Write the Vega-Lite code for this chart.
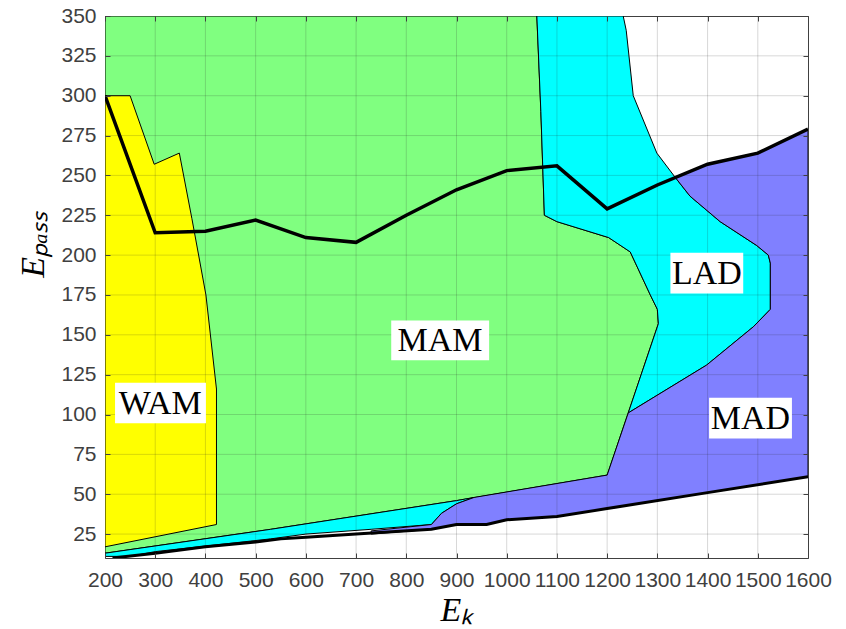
{
  "$schema": "https://vega.github.io/schema/vega-lite/v6.json",
  "width": 703,
  "height": 542,
  "autosize": "none",
  "padding": {"left": 105, "top": 16, "right": 38, "bottom": 71},
  "background": "white",
  "config": {
    "view": {"stroke": "#404040", "strokeWidth": 1}
  },
  "datasets": {
    "poly": [
      {"r": "MAM", "i": 0, "Ek": 200, "Ep": 350},
      {"r": "MAM", "i": 1, "Ek": 1060, "Ep": 350},
      {"r": "MAM", "i": 2, "Ek": 1068, "Ep": 290},
      {"r": "MAM", "i": 3, "Ek": 1075, "Ep": 225},
      {"r": "MAM", "i": 4, "Ek": 1100, "Ep": 221},
      {"r": "MAM", "i": 5, "Ek": 1203, "Ep": 211},
      {"r": "MAM", "i": 6, "Ek": 1246, "Ep": 202},
      {"r": "MAM", "i": 7, "Ek": 1286, "Ep": 175},
      {"r": "MAM", "i": 8, "Ek": 1300, "Ep": 166},
      {"r": "MAM", "i": 9, "Ek": 1302, "Ep": 157},
      {"r": "MAM", "i": 10, "Ek": 1242, "Ep": 101},
      {"r": "MAM", "i": 11, "Ek": 1200, "Ep": 62},
      {"r": "MAM", "i": 12, "Ek": 900, "Ep": 46},
      {"r": "MAM", "i": 13, "Ek": 530, "Ep": 28},
      {"r": "MAM", "i": 14, "Ek": 200, "Ep": 13},
      {"r": "MAM", "i": 15, "Ek": 200, "Ep": 350},

      {"r": "WAM", "i": 0, "Ek": 200, "Ep": 300},
      {"r": "WAM", "i": 1, "Ek": 250, "Ep": 300},
      {"r": "WAM", "i": 2, "Ek": 298, "Ep": 257},
      {"r": "WAM", "i": 3, "Ek": 348, "Ep": 264},
      {"r": "WAM", "i": 4, "Ek": 373, "Ep": 223},
      {"r": "WAM", "i": 5, "Ek": 401, "Ep": 175},
      {"r": "WAM", "i": 6, "Ek": 422, "Ep": 116},
      {"r": "WAM", "i": 7, "Ek": 422, "Ep": 31},
      {"r": "WAM", "i": 8, "Ek": 200, "Ep": 17},
      {"r": "WAM", "i": 9, "Ek": 200, "Ep": 300},

      {"r": "LAD", "i": 0, "Ek": 1060, "Ep": 350},
      {"r": "LAD", "i": 1, "Ek": 1232, "Ep": 350},
      {"r": "LAD", "i": 2, "Ek": 1238, "Ep": 341},
      {"r": "LAD", "i": 3, "Ek": 1252, "Ep": 300},
      {"r": "LAD", "i": 4, "Ek": 1299, "Ep": 264},
      {"r": "LAD", "i": 5, "Ek": 1335, "Ep": 249},
      {"r": "LAD", "i": 6, "Ek": 1365, "Ep": 237},
      {"r": "LAD", "i": 7, "Ek": 1425, "Ep": 221},
      {"r": "LAD", "i": 8, "Ek": 1498, "Ep": 206},
      {"r": "LAD", "i": 9, "Ek": 1521, "Ep": 200},
      {"r": "LAD", "i": 10, "Ek": 1525, "Ep": 195},
      {"r": "LAD", "i": 11, "Ek": 1525, "Ep": 166},
      {"r": "LAD", "i": 12, "Ek": 1491, "Ep": 155},
      {"r": "LAD", "i": 13, "Ek": 1398, "Ep": 131},
      {"r": "LAD", "i": 14, "Ek": 1242, "Ep": 101},
      {"r": "LAD", "i": 15, "Ek": 1302, "Ep": 157},
      {"r": "LAD", "i": 16, "Ek": 1300, "Ep": 166},
      {"r": "LAD", "i": 17, "Ek": 1286, "Ep": 175},
      {"r": "LAD", "i": 18, "Ek": 1246, "Ep": 202},
      {"r": "LAD", "i": 19, "Ek": 1203, "Ep": 211},
      {"r": "LAD", "i": 20, "Ek": 1100, "Ep": 221},
      {"r": "LAD", "i": 21, "Ek": 1075, "Ep": 225},
      {"r": "LAD", "i": 22, "Ek": 1068, "Ep": 290},
      {"r": "LAD", "i": 23, "Ek": 1060, "Ep": 350},

      {"r": "LADs", "i": 0, "Ek": 200, "Ep": 13},
      {"r": "LADs", "i": 1, "Ek": 530, "Ep": 28},
      {"r": "LADs", "i": 2, "Ek": 900, "Ep": 46},
      {"r": "LADs", "i": 3, "Ek": 935, "Ep": 48},
      {"r": "LADs", "i": 4, "Ek": 900, "Ep": 44},
      {"r": "LADs", "i": 5, "Ek": 870, "Ep": 38},
      {"r": "LADs", "i": 6, "Ek": 850, "Ep": 31},
      {"r": "LADs", "i": 7, "Ek": 730, "Ep": 28},
      {"r": "LADs", "i": 8, "Ek": 600, "Ep": 25},
      {"r": "LADs", "i": 9, "Ek": 530, "Ep": 22},
      {"r": "LADs", "i": 10, "Ek": 300, "Ep": 14},
      {"r": "LADs", "i": 11, "Ek": 250, "Ep": 11},
      {"r": "LADs", "i": 12, "Ek": 200, "Ep": 11},
      {"r": "LADs", "i": 13, "Ek": 200, "Ep": 13},

      {"r": "MAD", "i": 0, "Ek": 730, "Ep": 27},
      {"r": "MAD", "i": 1, "Ek": 850, "Ep": 31},
      {"r": "MAD", "i": 2, "Ek": 870, "Ep": 38},
      {"r": "MAD", "i": 3, "Ek": 900, "Ep": 44},
      {"r": "MAD", "i": 4, "Ek": 935, "Ep": 48},
      {"r": "MAD", "i": 5, "Ek": 1200, "Ep": 62},
      {"r": "MAD", "i": 6, "Ek": 1242, "Ep": 101},
      {"r": "MAD", "i": 7, "Ek": 1398, "Ep": 131},
      {"r": "MAD", "i": 8, "Ek": 1491, "Ep": 155},
      {"r": "MAD", "i": 9, "Ek": 1525, "Ep": 166},
      {"r": "MAD", "i": 10, "Ek": 1525, "Ep": 195},
      {"r": "MAD", "i": 11, "Ek": 1521, "Ep": 200},
      {"r": "MAD", "i": 12, "Ek": 1498, "Ep": 206},
      {"r": "MAD", "i": 13, "Ek": 1425, "Ep": 221},
      {"r": "MAD", "i": 14, "Ek": 1365, "Ep": 237},
      {"r": "MAD", "i": 15, "Ek": 1335, "Ep": 249},
      {"r": "MAD", "i": 16, "Ek": 1400, "Ep": 257},
      {"r": "MAD", "i": 17, "Ek": 1500, "Ep": 264},
      {"r": "MAD", "i": 18, "Ek": 1600, "Ep": 279},
      {"r": "MAD", "i": 19, "Ek": 1600, "Ep": 61},
      {"r": "MAD", "i": 20, "Ek": 1400, "Ep": 51},
      {"r": "MAD", "i": 21, "Ek": 1200, "Ep": 41},
      {"r": "MAD", "i": 22, "Ek": 1100, "Ep": 36},
      {"r": "MAD", "i": 23, "Ek": 1000, "Ep": 34},
      {"r": "MAD", "i": 24, "Ek": 960, "Ep": 31},
      {"r": "MAD", "i": 25, "Ek": 900, "Ep": 31},
      {"r": "MAD", "i": 26, "Ek": 850, "Ep": 28},
      {"r": "MAD", "i": 27, "Ek": 730, "Ep": 25},
      {"r": "MAD", "i": 28, "Ek": 730, "Ep": 27}
    ],
    "curves": [
      {"c": "upper", "Ek": 200, "Ep": 300},
      {"c": "upper", "Ek": 300, "Ep": 214},
      {"c": "upper", "Ek": 400, "Ep": 215},
      {"c": "upper", "Ek": 500, "Ep": 222},
      {"c": "upper", "Ek": 600, "Ep": 211},
      {"c": "upper", "Ek": 700, "Ep": 208},
      {"c": "upper", "Ek": 800, "Ep": 225},
      {"c": "upper", "Ek": 900, "Ep": 241},
      {"c": "upper", "Ek": 1000, "Ep": 253},
      {"c": "upper", "Ek": 1100, "Ep": 256},
      {"c": "upper", "Ek": 1200, "Ep": 229},
      {"c": "upper", "Ek": 1300, "Ep": 244},
      {"c": "upper", "Ek": 1400, "Ep": 257},
      {"c": "upper", "Ek": 1500, "Ep": 264},
      {"c": "upper", "Ek": 1600, "Ep": 279},
      {"c": "lower", "Ek": 215, "Ep": 10},
      {"c": "lower", "Ek": 300, "Ep": 13},
      {"c": "lower", "Ek": 400, "Ep": 17},
      {"c": "lower", "Ek": 500, "Ep": 20},
      {"c": "lower", "Ek": 550, "Ep": 22},
      {"c": "lower", "Ek": 600, "Ep": 23},
      {"c": "lower", "Ek": 700, "Ep": 25},
      {"c": "lower", "Ek": 850, "Ep": 28},
      {"c": "lower", "Ek": 900, "Ep": 31},
      {"c": "lower", "Ek": 960, "Ep": 31},
      {"c": "lower", "Ek": 1000, "Ep": 34},
      {"c": "lower", "Ek": 1100, "Ep": 36},
      {"c": "lower", "Ek": 1200, "Ep": 41},
      {"c": "lower", "Ek": 1400, "Ep": 51},
      {"c": "lower", "Ek": 1600, "Ep": 61}
    ],
    "gridx": [{"v": 300}, {"v": 400}, {"v": 500}, {"v": 600}, {"v": 700}, {"v": 800}, {"v": 900}, {"v": 1000}, {"v": 1100}, {"v": 1200}, {"v": 1300}, {"v": 1400}, {"v": 1500}],
    "gridy": [{"v": 25}, {"v": 50}, {"v": 75}, {"v": 100}, {"v": 125}, {"v": 150}, {"v": 175}, {"v": 200}, {"v": 225}, {"v": 250}, {"v": 275}, {"v": 300}, {"v": 325}],
    "labels": [
      {"label": "WAM", "Ek": 310, "Ep": 107, "Ek1": 220, "Ek2": 401, "Ep1": 94.5, "Ep2": 120},
      {"label": "MAM", "Ek": 867, "Ep": 146.6, "Ek1": 770, "Ek2": 965, "Ep1": 134, "Ep2": 159},
      {"label": "LAD", "Ek": 1398.5, "Ep": 188.8, "Ek1": 1326, "Ek2": 1471, "Ep1": 176, "Ep2": 201.5},
      {"label": "MAD", "Ek": 1485.5, "Ep": 97.8, "Ek1": 1403, "Ek2": 1568, "Ep1": 85, "Ep2": 110.5}
    ]
  },
  "layer": [
    {
      "data": {"name": "poly"},
      "transform": [{"filter": "datum.r === 'MAM'"}],
      "mark": {"type": "line", "fill": "#80FF80", "stroke": "#000000", "strokeWidth": 1, "clip": true},
      "encoding": {
        "x": {"field": "Ek", "type": "quantitative", "scale": {"domain": [200, 1600], "nice": false, "zero": false},
          "axis": {"orient": "bottom", "values": [200, 300, 400, 500, 600, 700, 800, 900, 1000, 1100, 1200, 1300, 1400, 1500, 1600],
            "format": "d",
            "grid": false, "domain": false, "tickSize": -5, "tickColor": "#404040", "tickWidth": 1,
            "labelFont": "Liberation Sans", "labelFontSize": 21, "labelColor": "#404040", "labelPadding": 16,
            "labelOverlap": false, "labelFlush": false, "labelBound": false,
            "title": "Eₖ", "titleFont": "Liberation Serif", "titleFontSize": 34, "titleFontStyle": "italic",
            "titleFontWeight": "normal", "titleColor": "#000000", "titlePadding": 3, "zindex": 1}},
        "y": {"field": "Ep", "type": "quantitative", "scale": {"domain": [10, 350], "nice": false, "zero": false},
          "axis": {"orient": "left", "values": [25, 50, 75, 100, 125, 150, 175, 200, 225, 250, 275, 300, 325, 350],
            "format": "d",
            "grid": false, "domain": false, "tickSize": -5, "tickColor": "#404040", "tickWidth": 1,
            "labelFont": "Liberation Sans", "labelFontSize": 21, "labelColor": "#404040", "labelPadding": 14,
            "labelOverlap": false, "labelFlush": false, "labelBound": false,
            "title": "Eₚₐₛₛ", "titleFont": "Liberation Serif", "titleFontSize": 34, "titleFontStyle": "italic",
            "titleFontWeight": "normal", "titleColor": "#000000", "titlePadding": 10, "titleY": 228, "zindex": 1}},
        "order": {"field": "i", "type": "quantitative"}
      }
    },
    {
      "data": {"name": "poly"},
      "transform": [{"filter": "datum.r === 'WAM'"}],
      "mark": {"type": "line", "fill": "#FFFF00", "stroke": "#000000", "strokeWidth": 1, "clip": true},
      "encoding": {
        "x": {"field": "Ek", "type": "quantitative", "axis": null},
        "y": {"field": "Ep", "type": "quantitative", "axis": null},
        "order": {"field": "i", "type": "quantitative"}
      }
    },
    {
      "data": {"name": "poly"},
      "transform": [{"filter": "datum.r === 'LAD'"}],
      "mark": {"type": "line", "fill": "#00FFFF", "stroke": "#000000", "strokeWidth": 1, "clip": true},
      "encoding": {
        "x": {"field": "Ek", "type": "quantitative", "axis": null},
        "y": {"field": "Ep", "type": "quantitative", "axis": null},
        "order": {"field": "i", "type": "quantitative"}
      }
    },
    {
      "data": {"name": "poly"},
      "transform": [{"filter": "datum.r === 'LADs'"}],
      "mark": {"type": "line", "fill": "#00FFFF", "stroke": "#000000", "strokeWidth": 1, "clip": true},
      "encoding": {
        "x": {"field": "Ek", "type": "quantitative", "axis": null},
        "y": {"field": "Ep", "type": "quantitative", "axis": null},
        "order": {"field": "i", "type": "quantitative"}
      }
    },
    {
      "data": {"name": "poly"},
      "transform": [{"filter": "datum.r === 'MAD'"}],
      "mark": {"type": "line", "fill": "#8080FF", "stroke": "#000000", "strokeWidth": 1, "clip": true},
      "encoding": {
        "x": {"field": "Ek", "type": "quantitative", "axis": null},
        "y": {"field": "Ep", "type": "quantitative", "axis": null},
        "order": {"field": "i", "type": "quantitative"}
      }
    },
    {
      "data": {"name": "gridx"},
      "mark": {"type": "rule", "color": "#262626", "opacity": 0.18, "strokeWidth": 1},
      "encoding": {"x": {"field": "v", "type": "quantitative", "axis": null}}
    },
    {
      "data": {"name": "gridy"},
      "mark": {"type": "rule", "color": "#262626", "opacity": 0.18, "strokeWidth": 1},
      "encoding": {"y": {"field": "v", "type": "quantitative", "axis": null}}
    },
    {
      "data": {"name": "curves"},
      "transform": [{"filter": "datum.c === 'lower'"}],
      "mark": {"type": "line", "color": "#000000", "strokeWidth": 3, "clip": true},
      "encoding": {
        "x": {"field": "Ek", "type": "quantitative", "axis": null},
        "y": {"field": "Ep", "type": "quantitative", "axis": null}
      }
    },
    {
      "data": {"name": "curves"},
      "transform": [{"filter": "datum.c === 'upper'"}],
      "mark": {"type": "line", "color": "#000000", "strokeWidth": 3.5, "clip": true},
      "encoding": {
        "x": {"field": "Ek", "type": "quantitative",
          "axis": {"orient": "top", "values": [200, 300, 400, 500, 600, 700, 800, 900, 1000, 1100, 1200, 1300, 1400, 1500, 1600],
            "labels": false, "title": null, "grid": false, "domain": false, "tickSize": -5, "tickColor": "#404040", "zindex": 1}},
        "y": {"field": "Ep", "type": "quantitative",
          "axis": {"orient": "right", "values": [25, 50, 75, 100, 125, 150, 175, 200, 225, 250, 275, 300, 325, 350],
            "labels": false, "title": null, "grid": false, "domain": false, "tickSize": -5, "tickColor": "#404040", "zindex": 1}}
      }
    },
    {
      "data": {"name": "labels"},
      "mark": {"type": "rect", "fill": "#FFFFFF", "stroke": null},
      "encoding": {
        "x": {"field": "Ek1", "type": "quantitative", "axis": null},
        "x2": {"field": "Ek2"},
        "y": {"field": "Ep1", "type": "quantitative", "axis": null},
        "y2": {"field": "Ep2"}
      }
    },
    {
      "data": {"name": "labels"},
      "mark": {"type": "text", "font": "Liberation Serif", "fontSize": 34, "color": "#000000", "align": "center", "baseline": "middle", "dy": 1},
      "encoding": {
        "x": {"field": "Ek", "type": "quantitative", "axis": null},
        "y": {"field": "Ep", "type": "quantitative", "axis": null},
        "text": {"field": "label"}
      }
    }
  ],
  "resolve": {"axis": {"x": "independent", "y": "independent"}}
}
